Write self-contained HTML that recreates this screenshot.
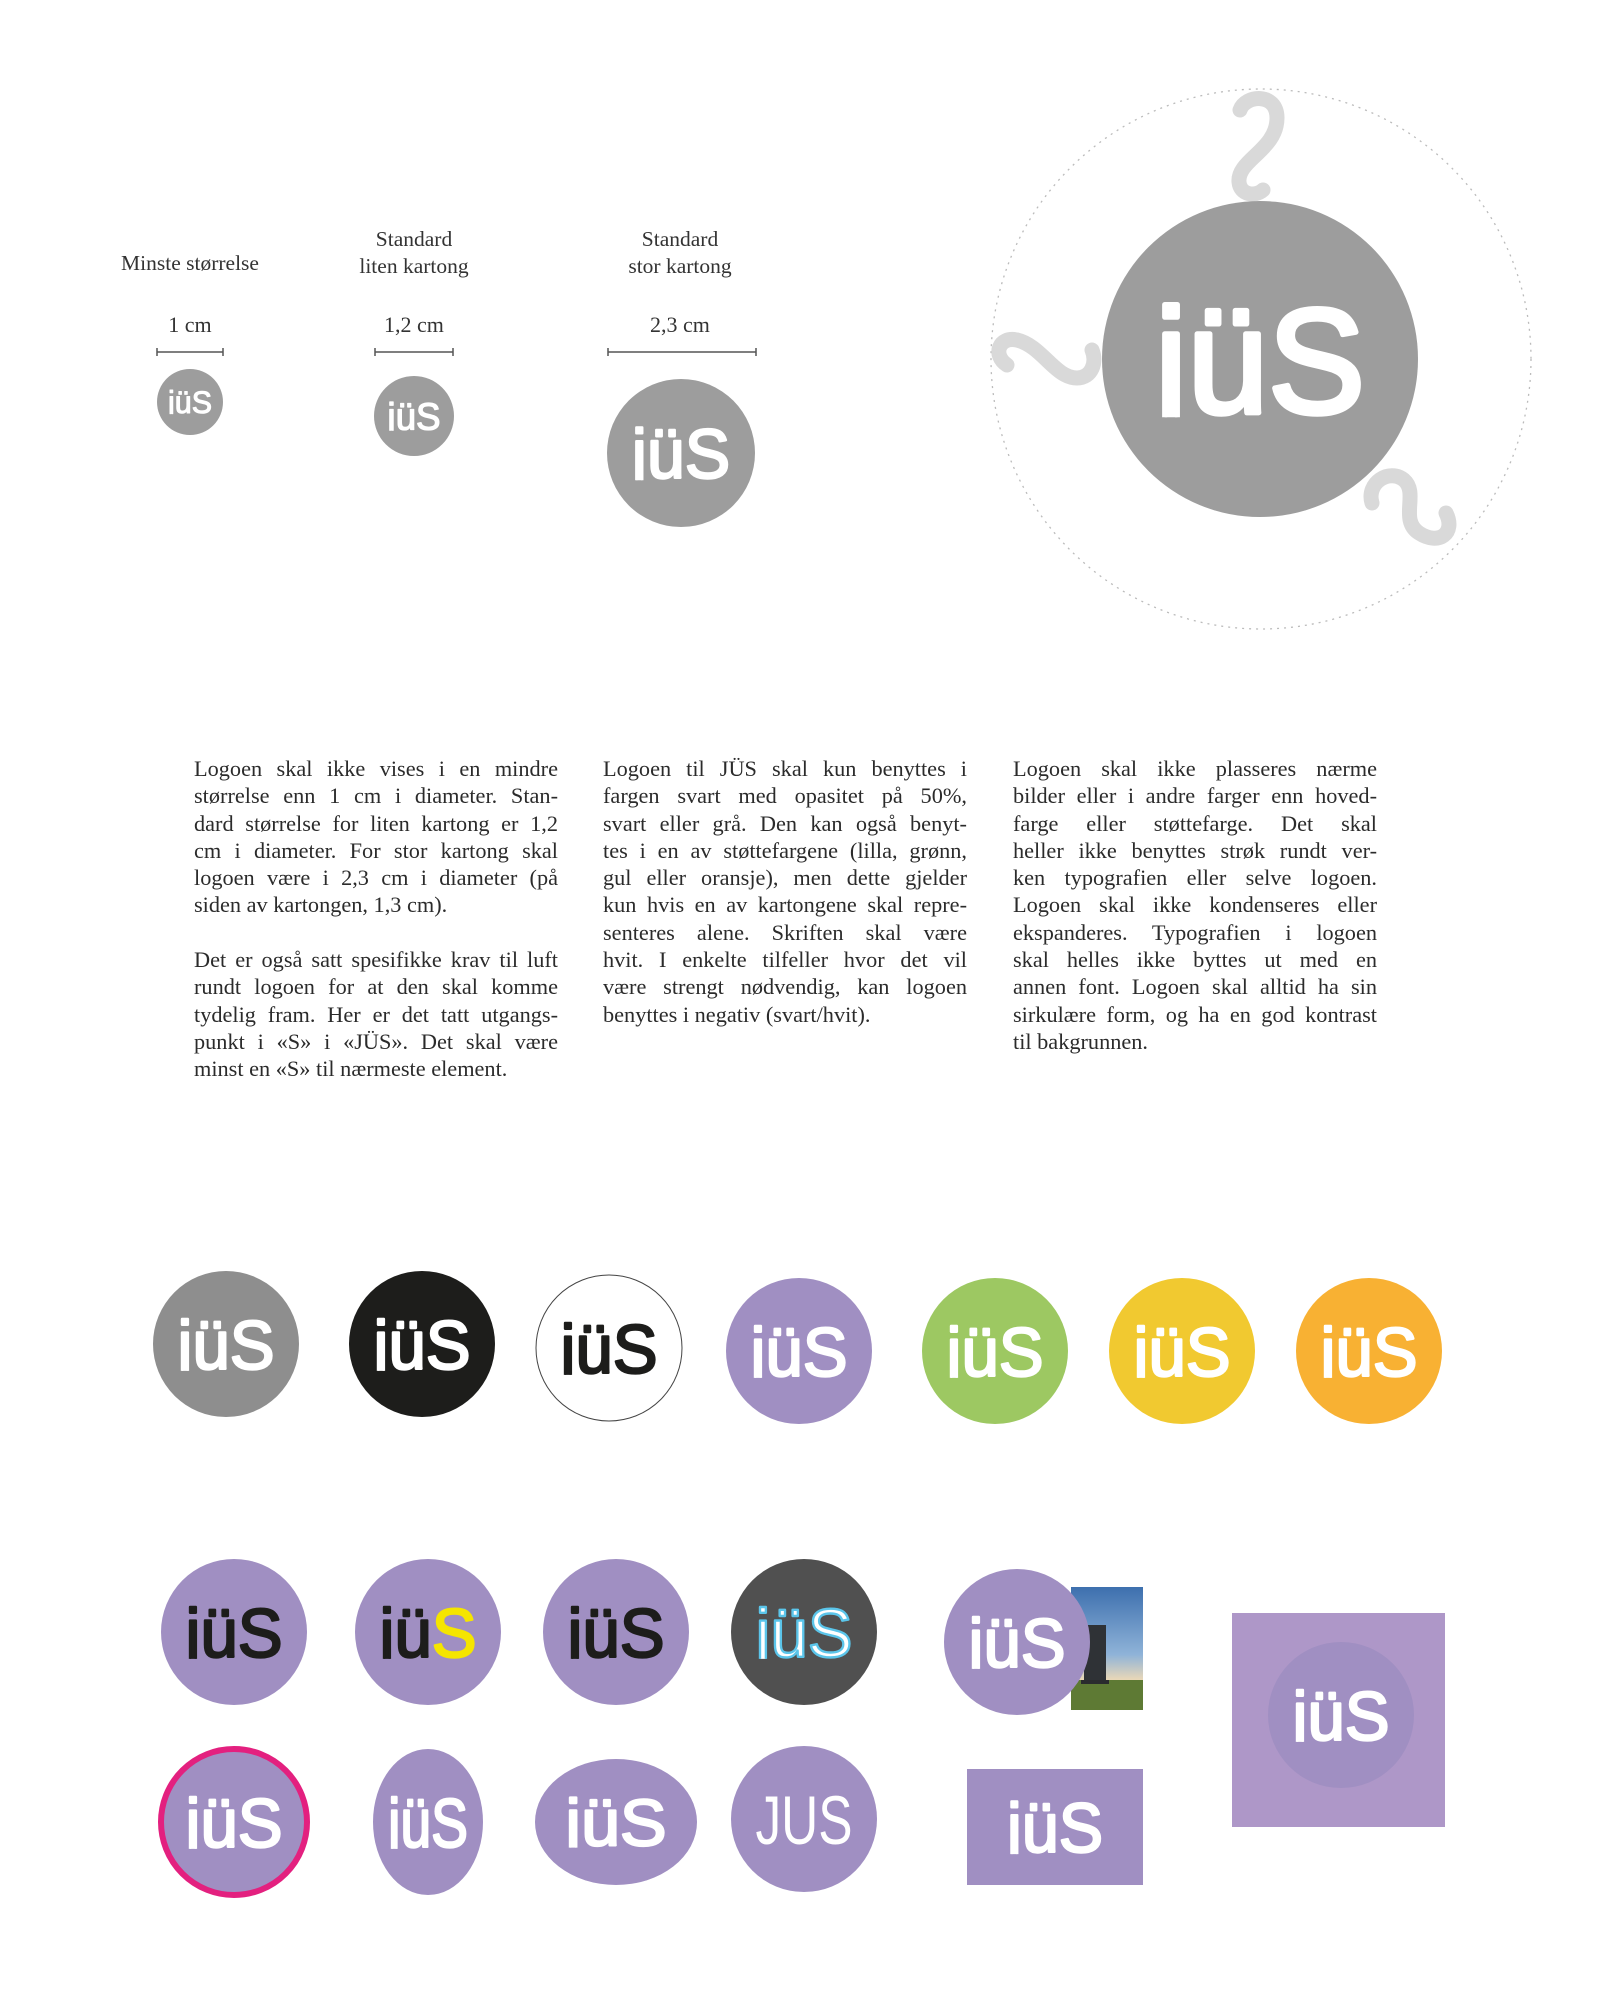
<!DOCTYPE html>
<html><head><meta charset="utf-8">
<style>
html,body{margin:0;padding:0;background:#fff;}
body{width:1604px;height:2001px;position:relative;overflow:hidden;font-family:"Liberation Serif",serif;color:#2b2b2b;}
svg{position:absolute;left:0;top:0;}
.col{position:absolute;width:364px;font-size:22.3px;line-height:27.3px;}
.col div{text-align:justify;text-align-last:justify;white-space:nowrap;height:27.3px;}
.col div.l{text-align-last:left;}
</style></head>
<body>
<svg id="art" width="1604" height="2001" viewBox="0 0 1604 2001">
<defs>
<linearGradient id="sky" x1="0" y1="0" x2="0" y2="1">
<stop offset="0" stop-color="#3d6fae"/><stop offset="0.55" stop-color="#8fb3d8"/><stop offset="0.75" stop-color="#e8d7b8"/><stop offset="1" stop-color="#c9c7b0"/>
</linearGradient>
</defs>
<g id="root">
<g font-family="Liberation Serif, serif" fill="#333" font-size="21.5" text-anchor="middle">
<text x="190" y="270">Minste størrelse</text>
<text x="414" y="246">Standard</text>
<text x="414" y="273">liten kartong</text>
<text x="680" y="246">Standard</text>
<text x="680" y="273">stor kartong</text>
<text x="190" y="332" font-size="22">1 cm</text>
<text x="414" y="332" font-size="22">1,2 cm</text>
<text x="680" y="332" font-size="22">2,3 cm</text>
</g>
<g stroke="#555" stroke-width="1.5" fill="none">
<path d="M157 352H223M157 348V356M223 348V356"/>
<path d="M375 352H453M375 348V356M453 348V356"/>
<path d="M608 352H756M608 348V356M756 348V356"/>
</g>
<circle cx="1261" cy="359" r="270" fill="none" stroke="#bbb" stroke-width="1.3" stroke-dasharray="2 5"/>
<g fill="none" stroke="#d9d9d9" stroke-width="15" stroke-linecap="round">
<path d="M1240 110C1245 95 1277 92 1277 118C1277 150 1237 160 1239 182C1240 195 1255 197 1263 190"/>
<path d="M1007 365C992 355 999 336 1017 340C1042 346 1055 378 1077 378C1092 378 1097 362 1092 350"/>
<path d="M1372 503C1366 483 1389 468 1404 480C1419 493 1399 520 1419 533C1439 546 1456 533 1446 513"/>
</g>
<rect x="1232" y="1613" width="213" height="214" fill="#ae97c8"/>
<rect x="967" y="1769" width="176" height="116" fill="#a08fc2"/>
<g>
<rect x="1071" y="1587" width="72" height="123" fill="url(#sky)"/>
<rect x="1071" y="1680" width="72" height="30" fill="#5e7a34"/>
<rect x="1084" y="1625" width="22" height="58" fill="#2f3236"/>
<rect x="1081" y="1680" width="28" height="4" fill="#2a2b2e"/>
</g>
<g id="logos"></g>
</g>
</svg>

<div class="col" style="left:194px;top:755px;">
<div>Logoen skal ikke vises i en mindre</div>
<div>størrelse enn 1 cm i diameter. Stan-</div>
<div>dard størrelse for liten kartong er 1,2</div>
<div>cm i diameter. For stor kartong skal</div>
<div>logoen være i 2,3 cm i diameter (på</div>
<div class="l">siden av kartongen, 1,3 cm).</div>
<div class="l"></div>
<div>Det er også satt spesifikke krav til luft</div>
<div>rundt logoen for at den skal komme</div>
<div>tydelig fram. Her er det tatt utgangs-</div>
<div>punkt i «S» i «JÜS». Det skal være</div>
<div class="l">minst en «S» til nærmeste element.</div>
</div>
<div class="col" style="left:603px;top:755px;">
<div>Logoen til JÜS skal kun benyttes i</div>
<div>fargen svart med opasitet på 50%,</div>
<div>svart eller grå. Den kan også benyt-</div>
<div>tes i en av støttefargene (lilla, grønn,</div>
<div>gul eller oransje), men dette gjelder</div>
<div>kun hvis en av kartongene skal repre-</div>
<div>senteres alene. Skriften skal være</div>
<div>hvit. I enkelte tilfeller hvor det vil</div>
<div>være strengt nødvendig, kan logoen</div>
<div class="l">benyttes i negativ (svart/hvit).</div>
</div>
<div class="col" style="left:1013px;top:755px;">
<div>Logoen skal ikke plasseres nærme</div>
<div>bilder eller i andre farger enn hoved-</div>
<div>farge eller støttefarge. Det skal</div>
<div>heller ikke benyttes strøk rundt ver-</div>
<div>ken typografien eller selve logoen.</div>
<div>Logoen skal ikke kondenseres eller</div>
<div>ekspanderes. Typografien i logoen</div>
<div>skal helles ikke byttes ut med en</div>
<div>annen font. Logoen skal alltid ha sin</div>
<div>sirkulære form, og ha en god kontrast</div>
<div class="l">til bakgrunnen.</div>
</div>

<script>
const NS="http://www.w3.org/2000/svg";
const g=document.getElementById('logos');
const defs=document.querySelector('defs');
const logoNames=['logo-min','logo-small','logo-large','logo-main','logo-gray','logo-black','logo-white','logo-purple','logo-green','logo-yellow','logo-orange','logo-purple-black','logo-purple-yellow-s','logo-purple-black-2','logo-dark-outline','logo-photo','logo-square-inner','logo-pink-ring','logo-condensed','logo-expanded','logo-thin-font','logo-on-rect'];
const logoSpecs=[
[190,402,33,33,'#9d9d9d','#fff','#fff','',''],
[414,416,40,40,'#9d9d9d','#fff','#fff','',''],
[681,453,74,74,'#9d9d9d','#fff','#fff','',''],
[1260,359,158,158,'#9d9d9d','#fff','#fff','',''],
[226,1344,73,73,'#8e8e8e','#fff','#fff','',''],
[422,1344,73,73,'#1d1d1b','#fff','#fff','',''],
[609,1348,73,73,'#fff','#1d1d1b','#1d1d1b','',''],
[799,1351,73,73,'#a08fc2','#fff','#fff','',''],
[995,1351,73,73,'#9dc862','#fff','#fff','',''],
[1182,1351,73,73,'#f1c930','#fff','#fff','',''],
[1369,1351,73,73,'#f8b133','#fff','#fff','',''],
[234,1632,73,73,'#a08fc2','#1d1d1b','#1d1d1b','',''],
[428,1632,73,73,'#a08fc2','#1d1d1b','#f5e500','',''],
[616,1632,73,73,'#a08fc2','#1d1d1b','#1d1d1b','',''],
[804,1632,73,73,'#505050','#fff','#fff','#5bc5ea',''],
[1017,1642,73,73,'#a08fc2','#fff','#fff','',''],
[1341,1715,73,73,'#a08fc2','#fff','#fff','',''],
[234,1822,73,73,'#a08fc2','#fff','#fff','','#e3207f'],
[428,1822,55,73,'#a08fc2','#fff','#fff','',''],
[616,1822,81,63,'#a08fc2','#fff','#fff','',''],
[804,1819,73,73,'#a08fc2','#fff','#fff','',''],
[1055,1827,0,0,'none','#fff','#fff','','']
];
logoSpecs.forEach((s,i)=>{
  const [cx,cy,rx,ry,bg,tc,sc,stroke,ring]=s;
  const grp=document.createElementNS(NS,'g');
  
  
  if(bg!=='none'){
    const e=document.createElementNS(NS,'ellipse');
    e.setAttribute('cx',cx);e.setAttribute('cy',cy);e.setAttribute('rx',rx);e.setAttribute('ry',ry);
    e.setAttribute('fill',bg);
    if(bg==='#fff'){e.setAttribute('stroke','#444');e.setAttribute('stroke-width','1');}
    if(ring){e.setAttribute('stroke',ring);e.setAttribute('stroke-width','6');}
    grp.appendChild(e);
  }
  let w=(rx||60)*1.33, h=(ry||60)*0.68;
  if(i===21){w=96;h=50;}
  if(i===19){w=rx*1.25;h=ry*0.75;}
  if(i===18){w=rx*1.45;h=ry*0.68;}
  const fs=h/0.72;
  const base=cy+h/2;
  const cp=document.createElementNS(NS,'clipPath');
  cp.setAttribute('id','cp'+i);
  const cr=document.createElementNS(NS,'rect');
  cr.setAttribute('x',cx-w);cr.setAttribute('y',cy-h*1.5);
  cr.setAttribute('width',w*2);cr.setAttribute('height',h*2+fs*0.03);
  cp.appendChild(cr);defs.appendChild(cp);
  const t=document.createElementNS(NS,'text');
  t.setAttribute('x',cx-w/2);
  t.setAttribute('y',base);
  t.setAttribute('clip-path','url(#cp'+i+')');
  t.setAttribute('font-family','Liberation Sans, sans-serif');
  t.setAttribute('font-size',fs.toFixed(1));
  t.setAttribute('font-weight','normal');
  t.setAttribute('textLength',w.toFixed(1));
  t.setAttribute('lengthAdjust','spacingAndGlyphs');
  t.setAttribute('fill',tc);
  t.setAttribute('stroke-linejoin','round');
  if(stroke){t.setAttribute('stroke',stroke);t.setAttribute('stroke-width',(fs*0.035).toFixed(1));}
  else if(i!==20){t.setAttribute('stroke',tc);t.setAttribute('stroke-width',(fs*0.035).toFixed(1));}
  
  
  if(i===20){t.textContent='JUS';}
  else{
    const a=document.createElementNS(NS,'tspan');a.textContent='jü';
    const b=document.createElementNS(NS,'tspan');b.textContent='S';b.setAttribute('fill',sc);
    if(!stroke)b.setAttribute('stroke',sc);
    t.appendChild(a);t.appendChild(b);
  }
  grp.appendChild(t);
  g.appendChild(grp);
});
</script>
</body></html>
